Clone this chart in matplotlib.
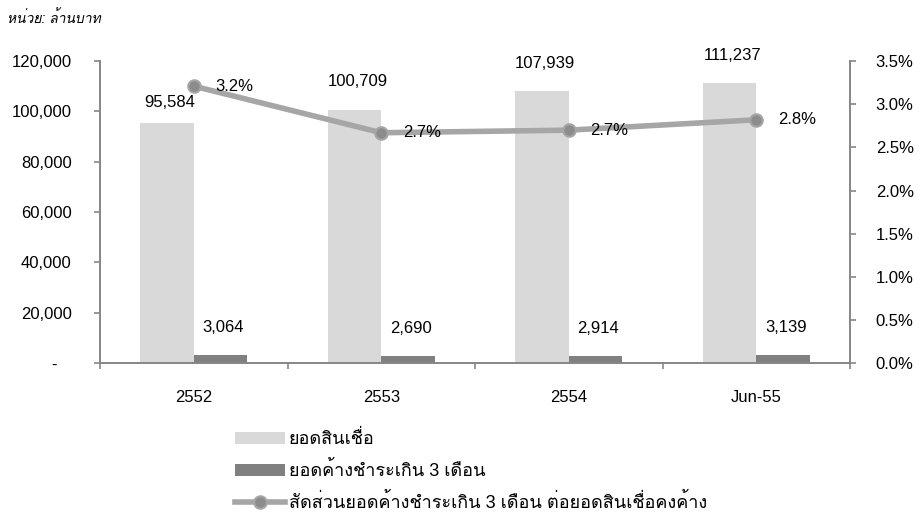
#import libraries
import numpy as np
import matplotlib
matplotlib.use('Agg')
import matplotlib.pyplot as plt

#data
categories = ['2552', '2553', '2554', 'Jun-55']
loans = [95584, 100709, 107939, 111237]
overdue = [3064, 2690, 2914, 3139]
ratio = [0.0321, 0.0267, 0.0270, 0.0282]
left_ticks = [0, 20000, 40000, 60000, 80000, 100000, 120000]
right_ticks = [0, 0.005, 0.01, 0.015, 0.02, 0.025, 0.03, 0.035]
legend_labels = ['ยอดสินเชื่อ', 'ยอดค้างชำระเกิน 3 เดือน',
                 'สัดส่วนยอดค้างชำระเกิน 3 เดือน ต่อยอดสินเชื่อคงค้าง']
unit_text = 'หน่วย: ล้านบาท'

#fonts: latin digits in Liberation Sans, thai falls back to Loma
fam = ['Liberation Sans', 'Loma', 'Noto Sans Thai Looped', 'DejaVu Sans']
plt.rcParams['font.family'] = fam
fs = 12
spine_col = '#868686'
light = '#d9d9d9'
dark = '#808080'

fig = plt.figure(figsize=(9.18, 5.18), dpi=100)
ax = fig.add_axes([0.109, 0.299, 0.817, 0.583])
ax2 = ax.twinx()

x = np.arange(len(categories))
w = 0.285
b1 = ax.bar(x - w/2, loans, w, color=light, label=legend_labels[0], zorder=2)
b2 = ax.bar(x + w/2, overdue, w, color=dark, label=legend_labels[1], zorder=2)
ln, = ax2.plot(x, ratio, color='#a6a6a6', lw=4, marker='o', ms=9,
               mfc='#8c8c8c', mec='#a6a6a6', mew=1.5, label=legend_labels[2],
               zorder=3)

#value labels
loan_dy = [14.5, 20, 20, 20]
for xi, v, dy in zip(x, loans, loan_dy):
    ax.annotate(f'{v:,}', (xi - w/2, v), xytext=(2, dy), textcoords='offset points',
                ha='center', va='center', fontsize=fs)
for xi, v in zip(x, overdue):
    ax.annotate(f'{v:,}', (xi + w/2, v), xytext=(2, 20), textcoords='offset points',
                ha='center', va='center', fontsize=fs)
for xi, v in zip(x, ratio):
    ax2.annotate(f'{v*100:.1f}%', (xi, v), xytext=(15.5, 0), textcoords='offset points',
                 ha='left', va='center', fontsize=fs)

#axes
ax.set_xlim(-0.5, len(categories) - 0.5)
ax.set_ylim(0, 120000)
ax2.set_ylim(0, 0.035)
ax.set_yticks(left_ticks)
ax.set_yticklabels(['-   '] + [f'{t:,}' for t in left_ticks[1:]])
ax2.set_yticks(right_ticks)
ax2.set_yticklabels([f'{t*100:.1f}%' for t in right_ticks])
ax.set_xticks(x)
ax.set_xticklabels(categories)
ax.set_xticks(np.arange(-0.5, len(categories)), minor=True)
ax.tick_params(axis='x', which='major', length=0, pad=19, labelsize=fs)
ax.tick_params(axis='x', which='minor', length=4.5, color=spine_col, width=1.2)
ax.tick_params(axis='y', length=4.5, color=spine_col, width=1.2, pad=16, labelsize=fs)
ax2.tick_params(axis='y', length=4.5, color=spine_col, width=1.2, pad=14, labelsize=fs)

for a in (ax, ax2):
    a.spines['top'].set_visible(False)
    for s in ('left', 'right', 'bottom'):
        a.spines[s].set_color(spine_col)
        a.spines[s].set_linewidth(1.2)

#unit note
fig.text(0.008, 0.965, unit_text, fontsize=10, style='italic', ha='left', va='center')

#legend
fig.legend(handles=[b1, b2, ln], labels=legend_labels, loc='upper left',
           bbox_to_anchor=(0.256, 0.170), frameon=False, fontsize=13,
           handlelength=2.77, handleheight=0.66, handletextpad=0.22,
           labelspacing=0.72, borderpad=0, borderaxespad=0)

fig.savefig('out.png', dpi=100)
